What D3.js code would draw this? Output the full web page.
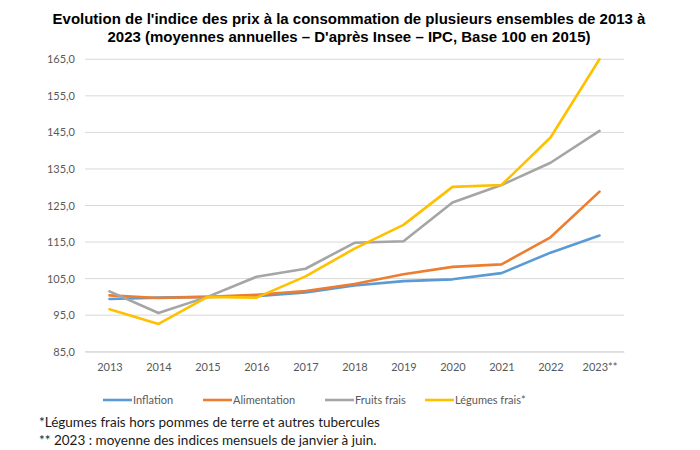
<!DOCTYPE html>
<html><head><meta charset="utf-8">
<script src="https://cdn.jsdelivr.net/npm/d3@7"></script>
<style>body{margin:0;background:#fff}svg{display:block}</style>
</head><body>
<script>
const years = ["2013","2014","2015","2016","2017","2018","2019","2020","2021","2022","2023**"];
const inflation = [99.4,99.8,100.0,100.2,101.2,103.1,104.3,104.8,106.5,112.1,116.8];
const alimentation = [100.4,99.7,100.0,100.6,101.6,103.5,106.2,108.2,108.9,116.3,128.8];
const fruitsFrais = [101.5,95.6,100.0,105.5,107.7,114.8,115.2,125.8,130.6,136.7,145.4];
const legumesFrais = [96.6,92.6,100.0,99.8,105.6,113.2,119.7,130.1,130.6,143.6,165.0];
const seriesNames = ["Inflation","Alimentation","Fruits frais","Légumes frais*"];
const colors = ["#5B9BD5","#ED7D31","#A5A5A5","#FFC000"];
const yTicks = [85,95,105,115,125,135,145,155,165];
const titleLines = ["Evolution de l'indice des prix à la consommation de plusieurs ensembles de 2013 à",
                    "2023 (moyennes annuelles – D'après Insee – IPC, Base 100 en 2015)"];
const footnotes = ["*Légumes frais hors pommes de terre et autres tubercules",
                   "** 2023 : moyenne des indices mensuels de janvier à juin."];

(function(){
const W=700,H=450;
const svg=d3.select("body").append("svg").attr("width",W).attr("height",H);
const pLeft=85,pRight=624,pTop=59.3,pBottom=351.7;
const x=d3.scalePoint().domain(years).range([pLeft,pRight]).padding(0.5);
const y=d3.scaleLinear().domain([85,165]).range([pBottom,pTop]);

svg.append("g").selectAll("text").data(titleLines).join("text")
  .attr("x",349).attr("y",(d,i)=>24+i*18).attr("text-anchor","middle")
  .style("font-family","'Liberation Sans Narrow','Liberation Sans',Arial,sans-serif")
  .style("font-weight","bold").style("font-size","15px").attr("fill","#000").text(d=>d);

svg.append("g").selectAll("line").data(yTicks).join("line")
  .attr("x1",pLeft).attr("x2",pRight).attr("y1",d=>y(d)).attr("y2",d=>y(d))
  .attr("stroke","#d9d9d9").attr("stroke-width",1);

const yAxis=svg.append("g").attr("transform",`translate(${pLeft},0)`)
  .call(d3.axisLeft(y).tickValues(yTicks).tickSize(0).tickPadding(10).tickFormat(d=>d3.format(".1f")(d).replace(".",",")));
yAxis.select(".domain").remove();
yAxis.selectAll("text").style("font-family","Lato,'Open Sans',sans-serif").style("font-size","11px").attr("fill","#595959");

const xAxis=svg.append("g").attr("transform",`translate(0,${pBottom})`)
  .call(d3.axisBottom(x).tickSize(0).tickPadding(12));
xAxis.select(".domain").attr("stroke","#d9d9d9");
xAxis.selectAll("text").style("font-family","Lato,'Open Sans',sans-serif").style("font-size","11px").attr("fill","#595959");

const data=[inflation,alimentation,fruitsFrais,legumesFrais];
const line=d3.line().x((d,i)=>x(years[i])).y(d=>y(d));
svg.append("g").selectAll("path").data(data).join("path")
  .attr("d",line).attr("fill","none").attr("stroke",(d,i)=>colors[i])
  .attr("stroke-width",2.6).attr("stroke-linejoin","round").attr("stroke-linecap","round");

const legX=[103,203,325,425];
const lg=svg.append("g").selectAll("g").data(seriesNames).join("g")
  .attr("transform",(d,i)=>`translate(${legX[i]},400)`);
lg.append("line").attr("x1",0).attr("x2",29).attr("y1",0).attr("y2",0)
  .attr("stroke",(d,i)=>colors[i]).attr("stroke-width",2.6);
lg.append("text").attr("x",30).attr("y",4).text(d=>d)
  .style("font-family","Lato,'Open Sans',sans-serif").style("font-size","11px").attr("fill","#595959");

svg.append("g").selectAll("text").data(footnotes).join("text")
  .attr("x",39).attr("y",(d,i)=>427+i*18).text(d=>d)
  .style("font-family","Lato,'Open Sans',sans-serif").style("font-size","13.5px").attr("fill","#1a1a1a");
})();
</script>
</body></html>
